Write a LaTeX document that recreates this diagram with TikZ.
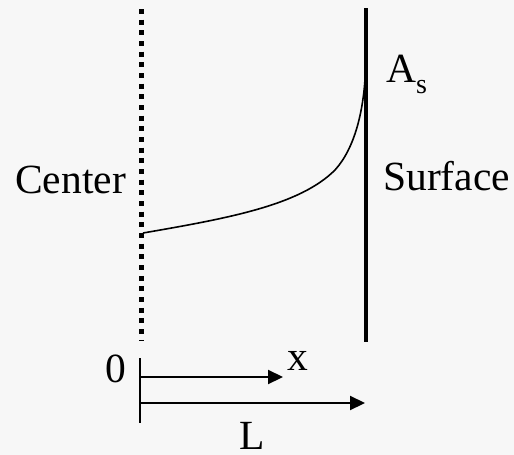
\documentclass[tikz,border=0pt]{standalone}
\usepackage{fontspec}
\setmainfont{Liberation Serif}
\usetikzlibrary{arrows.meta}
\definecolor{bgc}{HTML}{F7F7F7}
\begin{document}
\begin{tikzpicture}[x=1pt,y=-1pt,
  lbl/.style={inner sep=0pt,anchor=base west,font=\fontsize{41.5}{41.5}\selectfont},
  wall/.style={line width=4pt},
  centerline/.style={line width=5pt,dash pattern=on 5pt off 5.67pt},
  axis/.style={line width=2.2pt,-{Triangle[length=15pt,width=14pt]}}]
\fill[bgc] (0,0) rectangle (514,455);
\useasboundingbox (0,0) rectangle (514,455);
% center (dotted) and surface (solid)
\coordinate (ctop) at (141.7,9);
\coordinate (cbot) at (141.7,341);
\draw[centerline] (ctop) -- (cbot);
\coordinate (stop) at (366,8);
\coordinate (sbot) at (366,342);
\draw[wall] (stop) -- (sbot);
% profile curve
\coordinate (p0) at (143,233);
\coordinate (p1) at (335,170);
\coordinate (p2) at (365.5,70);
\draw[line width=1.6pt] (p0) .. controls (230,218) and (300,205) .. (p1)
  .. controls (355,148) and (364,110) .. (p2);
% labels
\node[lbl] (center) at (15,193) {Center};
\node[lbl] (surface) at (383,190) {Surface};
\node[lbl] (as) at (386,82) {A\raisebox{-11pt}{\fontsize{28}{28}\selectfont s}};
\node[lbl] (zero) at (105,382) {0};
\node[lbl] (xl) at (287,370) {x};
\node[lbl,text depth=0pt] (ll) at (239,449) {L};
% axis
\coordinate (ttop) at (140,358);
\coordinate (tbot) at (140,423);
\draw[line width=2.2pt] (ttop) -- (tbot);
\coordinate (xs) at (140,377);
\coordinate (xe) at (283,377);
\draw[axis] (xs) -- (xe);
\coordinate (ls) at (140,403);
\coordinate (le) at (365,403);
\draw[axis] (ls) -- (le);
\end{tikzpicture}
\end{document}
